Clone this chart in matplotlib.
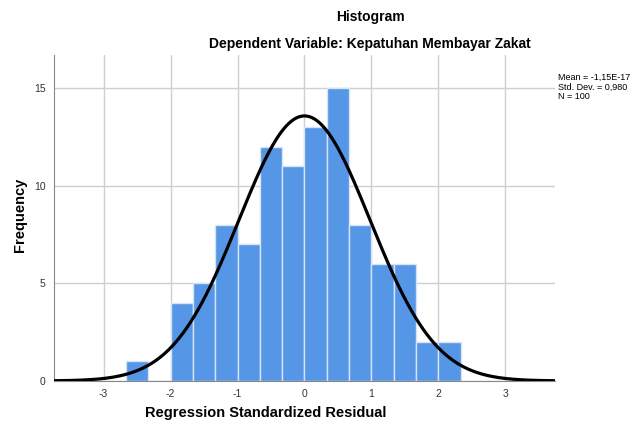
import numpy as np
import matplotlib
matplotlib.use('Agg')
import matplotlib.pyplot as plt

plt.rcParams['font.family'] = ['Liberation Sans', 'DejaVu Sans']
plt.rcParams['axes.unicode_minus'] = False

# histogram bins (width 1/3) and counts
bin_left = [-8, -7, -6, -5, -4, -3, -2, -1, 0, 1, 2, 3, 4, 5, 6]  # in thirds
counts = [1, 0, 4, 5, 8, 7, 12, 11, 13, 15, 8, 6, 6, 2, 2]
mean = -1.15e-17
sd = 0.980
n = 100
bin_width = 1 / 3

fig = plt.figure(figsize=(6.35, 4.28), dpi=100)
ax = fig.add_axes([0.085, 0.11, 0.789, 0.762])

lefts = np.array(bin_left) / 3
ax.bar(lefts, counts, width=bin_width, align='edge', color='#5596e6',
       edgecolor='#d6e4f7', linewidth=1, zorder=2)

xs = np.linspace(-3.74, 3.74, 400)
pdf = n * bin_width * np.exp(-0.5 * ((xs - mean) / sd) ** 2) / (sd * np.sqrt(2 * np.pi))
ax.plot(xs, pdf, color='black', linewidth=2.3, zorder=3)

ax.set_xlim(-3.74, 3.74)
ax.set_ylim(0, 16.7)
ax.set_xticks([-3, -2, -1, 0, 1, 2, 3])
ax.set_yticks([0, 5, 10, 15])
ax.grid(True, color='#cfcfcf', linewidth=1, zorder=0)
ax.set_axisbelow(True)
ax.tick_params(axis='x', length=0, labelsize=7.5, colors='#333333', pad=6)
ax.tick_params(axis='y', length=0, labelsize=7.5, colors='#333333', pad=6)
for s in ['top', 'right']:
    ax.spines[s].set_visible(False)
ax.spines['left'].set_color('#888888')
ax.spines['bottom'].set_color('#888888')

fig.text(20 / 635, 1 - 215 / 428, 'Frequency', rotation=90,
         ha='center', va='center', fontsize=10.5, fontweight='bold')
fig.text(266 / 635, 1 - 413 / 428, 'Regression Standardized Residual',
         ha='center', va='center', fontsize=10.5, fontweight='bold')

fig.text(370 / 635, 1 - 17 / 428, 'Histogram', ha='center', va='center',
         fontsize=10, fontweight='bold')
fig.text(370 / 635, 1 - 44 / 428, 'Dependent Variable: Kepatuhan Membayar Zakat',
         ha='center', va='center', fontsize=10, fontweight='bold')

fig.text(558 / 635, 1 - 87 / 428,
         'Mean = -1,15E-17\nStd. Dev. = 0,980\nN = 100',
         ha='left', va='center', fontsize=6.5, linespacing=1.1)

fig.savefig('out.png', dpi=100)
